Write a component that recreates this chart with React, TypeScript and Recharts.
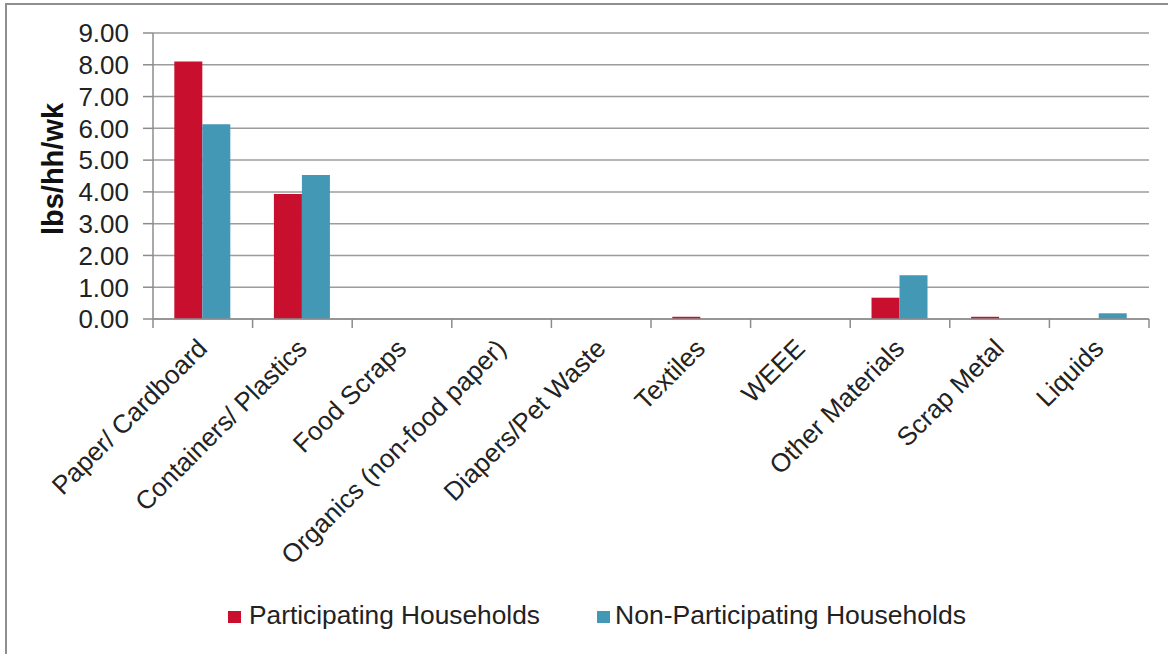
import { BarChart, Bar, XAxis, YAxis, CartesianGrid } from 'recharts';

const categories = [
  'Paper/ Cardboard',
  'Containers/ Plastics',
  'Food Scraps',
  'Organics (non-food paper)',
  'Diapers/Pet Waste',
  'Textiles',
  'WEEE',
  'Other Materials',
  'Scrap Metal',
  'Liquids',
];
const participating = [8.1, 3.93, 0, 0, 0, 0.07, 0, 0.67, 0.07, 0];
const nonParticipating = [6.13, 4.53, 0, 0, 0, 0, 0, 1.38, 0, 0.18];
const yTicks = [0, 1, 2, 3, 4, 5, 6, 7, 8, 9];

const seriesNames = ['Participating Households', 'Non-Participating Households'];
const RED = '#C8102E';
const BLUE = '#4398B6';
const GRID = '#9c9c9c';
const AXIS = '#8c8c8c';
const FONT = '"Liberation Sans", Arial, sans-serif';

const W = 1168;
const H = 654;
const PLOT_LEFT = 153;
const PLOT_RIGHT = 1149;
const PLOT_TOP = 33;
const PLOT_BOTTOM = 319;
const BAND = (PLOT_RIGHT - PLOT_LEFT) / categories.length;

const chartData = categories.map((name, i) => ({
  name,
  participating: participating[i],
  nonParticipating: nonParticipating[i],
}));

const YTick = ({ x, y, payload }: any) => (
  <g>
    <line x1={x} x2={x + 10} y1={y} y2={y} stroke={AXIS} strokeWidth={1.5} />
    <text
      x={x - 14}
      y={y}
      textAnchor="end"
      dy="0.36em"
      fontSize={26}
      fontFamily={FONT}
      fill="#222"
    >
      {Number(payload.value).toFixed(2)}
    </text>
  </g>
);

const XTick = ({ x, y, payload, index }: any) => (
  <g>
    <line x1={x - BAND / 2} x2={x - BAND / 2} y1={y} y2={y + 9} stroke={AXIS} strokeWidth={1.5} />
    {index === categories.length - 1 && (
      <line x1={x + BAND / 2} x2={x + BAND / 2} y1={y} y2={y + 9} stroke={AXIS} strokeWidth={1.5} />
    )}
    <text
      transform={`translate(${x + 6}, ${y + 31}) rotate(-45)`}
      textAnchor="end"
      fontSize={26}
      fontFamily={FONT}
      fill="#222"
    >
      {payload.value}
    </text>
  </g>
);

const YLabel = () => (
  <text
    transform={`translate(63, 169) rotate(-90)`}
    textAnchor="middle"
    fontSize={29}
    fontWeight="bold"
    fontFamily={FONT}
    fill="#111"
  >
    lbs/hh/wk
  </text>
);

const LegendBox = () => (
  <svg width={800} height={50} style={{ position: 'absolute', left: 200, top: 590 }}>
    <rect x={28} y={21} width={13} height={12} fill={RED} />
    <text x={49} y={34} fontSize={26} fontFamily={FONT} fill="#222" textLength={291} lengthAdjust="spacingAndGlyphs">
      {seriesNames[0]}
    </text>
    <rect x={397} y={21} width={13} height={12} fill={BLUE} />
    <text x={415} y={34} fontSize={26} fontFamily={FONT} fill="#222" textLength={351} lengthAdjust="spacingAndGlyphs">
      {seriesNames[1]}
    </text>
  </svg>
);

export default function App() {
  return (
    <div
      style={{
        position: 'absolute',
        left: 0,
        top: 0,
        width: W,
        height: H,
        overflow: 'hidden',
        background: '#fff',
      }}
    >
      <div
        style={{
          position: 'absolute',
          left: 5,
          top: 3,
          width: W + 40,
          height: H + 40,
          border: '2px solid #8f8f8f',
        }}
      />
      <div style={{ position: 'absolute', left: 0, top: 0 }}>
        <BarChart
          width={W}
          height={H}
          data={chartData}
          margin={{ top: PLOT_TOP, right: W - PLOT_RIGHT, left: 0, bottom: 0 }}
          barCategoryGap="21.4%"
          barGap={0}
        >
          <CartesianGrid vertical={false} stroke={GRID} strokeWidth={1.5} />
          <XAxis
            dataKey="name"
            height={H - PLOT_BOTTOM}
            interval={0}
            tickLine={false}
            tickSize={0}
            tickMargin={0}
            axisLine={{ stroke: AXIS, strokeWidth: 1.5 }}
            tick={<XTick />}
          />
          <YAxis
            width={PLOT_LEFT}
            domain={[0, 9]}
            ticks={yTicks}
            interval={0}
            tickLine={false}
            tickSize={10}
            tickMargin={0}
            axisLine={{ stroke: AXIS, strokeWidth: 1.5 }}
            tick={<YTick />}
            label={<YLabel />}
          />
          <Bar dataKey="participating" name={seriesNames[0]} fill={RED} isAnimationActive={false} />
          <Bar dataKey="nonParticipating" name={seriesNames[1]} fill={BLUE} isAnimationActive={false} />
        </BarChart>
      </div>
      <LegendBox />
    </div>
  );
}
